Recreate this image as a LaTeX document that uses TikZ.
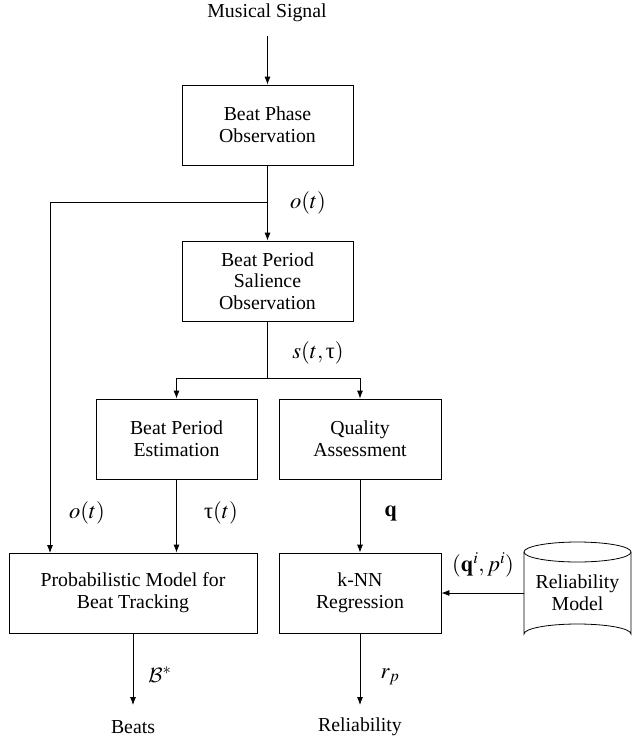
\documentclass[tikz,border=0pt]{standalone}
\usepackage{mathptmx}
\usepackage[no-math]{fontspec}
\setmainfont{Liberation Serif}
\DeclareMathAlphabet{\mathcmcal}{OMS}{cmsy}{m}{n}
\newcommand{\uptauchar}{\mbox{τ}}
\usetikzlibrary{arrows.meta}
\begin{document}
\begin{tikzpicture}[x=1pt,y=-1pt,
  every node/.style={font=\fontsize{19.8}{21.7}\selectfont},
  blk/.style={draw, line width=0.8pt, align=center, minimum height=80pt, inner sep=0pt},
  lbl/.style={inner sep=0pt},
  mlbl/.style={inner sep=0pt, font=\fontsize{22.5}{26}\selectfont},
  arr/.style={line width=0.8pt, -{Latex[length=8pt,width=6pt]}},
  ln/.style={line width=0.8pt}]
\useasboundingbox (0,0) rectangle (641,737);
% nodes
\node[lbl] (sig) at (267,13) {Musical Signal};
\node[blk, minimum width=171pt] (b1) at (267.5,125) {Beat Phase\\Observation};
\node[blk, minimum width=171pt] (b2) at (267.5,281) {Beat Period\\Salience\\Observation};
\node[blk, minimum width=161pt] (b3) at (176.5,439) {Beat Period\\Estimation};
\node[blk, minimum width=162pt] (b4) at (360,439) {Quality\\Assessment};
\node[blk, minimum width=248pt] (b5) at (133,593) {Probabilistic Model for\\Beat Tracking};
\node[blk, minimum width=162pt] (b6) at (360,593) {k-NN\\Regression};
\node[align=center, minimum width=107pt, minimum height=102pt, inner sep=0pt] (rel) at (577.5,593) {Reliability\\Model};
\node[lbl] (beats) at (133,727) {Beats};
\node[lbl] (relout) at (360,727) {Reliability};
% cylinder outline
\draw[ln] (rel.center) ++(0,-41) ellipse [x radius=53.5, y radius=10];
\draw[ln] (524,552) -- (524,634) arc[start angle=180, end angle=360, x radius=53.5, y radius=10] -- (631,552);
% labels
\node[mlbl] (lo1) at (308,203) {$o(t)$};
\node[mlbl] (ls) at (318,353) {$s(t,\uptauchar)$};
\node[mlbl] (lo2) at (87,513) {$o(t)$};
\node[mlbl] (ltau) at (221,513) {$\uptauchar(t)$};
\node[mlbl] (lq) at (391,513) {$\mathbf{q}$};
\node[mlbl] (lqp) at (483,565) {$(\mathbf{q}^i,p^i)$};
\node[mlbl] (lb) at (160,675) {$\mathcmcal{B}^*$};
\node[mlbl] (lr) at (390,677) {$r_p$};
% junctions
\coordinate (j1) at (267.5,202);
\coordinate (o5) at (50,553);
\coordinate (j2) at (267.5,378);
\coordinate (e5) at (133,705);
\coordinate (e6) at (360,705);
\coordinate (s0) at (267.5,36);
% connectors
\draw[arr] (s0) -- (b1.north);
\draw[arr] (b1.south) -- (b2.north);
\draw[arr] (j1) -| (o5);
\draw[ln] (b2.south) -- (j2);
\draw[arr] (j2) -| (b3.north);
\draw[arr] (j2) -| (b4.north);
\draw[arr] (b3.south) -- (b3.south |- b5.north);
\draw[arr] (b4.south) -- (b6.north);
\draw[arr] (rel.west) -- (b6.east);
\draw[arr] (b5.south) -- (e5);
\draw[arr] (b6.south) -- (e6);
\end{tikzpicture}
\end{document}
